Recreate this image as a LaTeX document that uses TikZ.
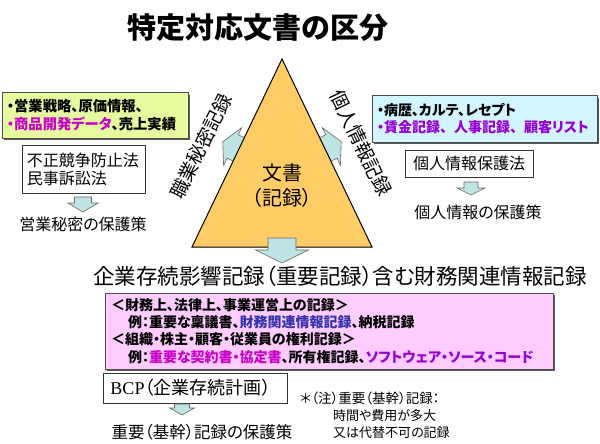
\documentclass[tikz,border=0pt]{standalone}
\usepackage{fontspec}
\setmainfont{Liberation Serif}
\newfontfamily\jp{Noto Sans CJK JP}[RawFeature=+palt]
\newfontfamily\jpf{Noto Sans CJK JP}
\usetikzlibrary{shadows}
\definecolor{trifill}{RGB}{255,204,102}
\definecolor{arrfill}{RGB}{190,228,228}
\definecolor{greenbox}{RGB}{230,250,160}
\definecolor{bluebox}{RGB}{210,245,255}
\definecolor{pinkbox}{RGB}{255,204,255}
\definecolor{mag}{RGB}{200,0,200}
\definecolor{purp}{RGB}{150,0,210}
\definecolor{navyb}{RGB}{50,50,170}
\newcommand{\fs}[1]{\fontsize{#1}{#1}\selectfont}
\newcommand{\fw}[1]{{\jpf #1}}
\newcommand{\blockarrow}[7]{%
  \begin{scope}[shift={(#1,#2)},rotate=#3]
    \filldraw[arrowsty] (0,-#5/2) -- ({#4-#7},-#5/2) -- ({#4-#7},-#6/2) -- (#4,0)
      -- ({#4-#7},#6/2) -- ({#4-#7},#5/2) -- (0,#5/2) -- cycle;
  \end{scope}}
\tikzset{
  arrowsty/.style={fill=arrfill,draw=gray!80!black,line width=0.6pt},
  colbox/.style={draw=gray!60!black,line width=1pt,align=left,inner sep=0pt,
    drop shadow={shadow xshift=1.8pt,shadow yshift=-1.8pt,fill=gray!70!black,opacity=1}},
  lawbox/.style={draw=gray!40!black,line width=0.7pt,fill=white,inner sep=0pt},
}
\begin{document}
\begin{tikzpicture}[x=1pt,y=-1pt,every node/.style={inner sep=0pt,font=\jp}]
\useasboundingbox[fill=white] (0,0) rectangle (600,444);
% title
\node[font=\jp\bfseries\fs{29}] (title) at (258,28) {特定対応文書の区分};
% side arrows behind triangle
\blockarrow{243.5}{151.7}{154.4}{23}{26}{42}{11}
\blockarrow{320.5}{151.7}{25.6}{23}{26}{42}{11}
% triangle
\coordinate (apex) at (282,59);
\coordinate (bl) at (192,247);
\coordinate (br) at (372,247);
\filldraw[fill=trifill,draw=black,line width=1pt] (apex) -- (br) -- (bl) -- cycle;
\blockarrow{282}{238}{-90}{25}{28}{53}{13}
\node[font=\jp\fs{20}] (bunsho) at (282,173) {文書};
\node[font=\jp\fs{20}] (kiroku) at (282,198) {（記録）};
\node[font=\jp\fs{19},rotate=63.5] (shokugyo) at (201,146) {職業秘密記録};
\node[font=\jp\fs{19},rotate=-64] (kojin) at (361,143) {個人情報記録};
% left column
\node[colbox,fill=greenbox,minimum width=186pt,minimum height=45pt,text width=176pt,
  font=\jp\bfseries\fontsize{14.3}{18}\selectfont] (gbox) at (95,115.5)
  {・営業戦略、原価情報、\\{\color{mag}・商品開発データ}、売上実績};
\node[lawbox,minimum width=123pt,minimum height=48pt,align=left,text width=113pt,
  font=\jp\fontsize{16}{18}\selectfont] (law1) at (83.5,169) {不正競争防止法\\民事訴訟法};
\blockarrow{83}{197}{-90}{15}{17}{30}{9}
\node[font=\jp\fs{16}] (prot1) at (83,224) {営業秘密の保護策};
% right column
\node[colbox,fill=bluebox,minimum width=225pt,minimum height=46pt,text width=215pt,
  font=\jp\bfseries\fontsize{14}{17}\selectfont] (bbox) at (484.5,119)
  {・病歴、カルテ、レセプト\\{\color{purp}・賃金記録\fw{、}人事記録\fw{、}顧客リスト}};
\node[lawbox,minimum width=128pt,minimum height=27pt,font=\jp\fs{16}] (law2) at (469,163.5) {個人情報保護法};
\blockarrow{471}{182}{-90}{13}{14}{28}{7}
\node[font=\jp\fs{16}] (prot2) at (478,212) {個人情報の保護策};
% heading
\node[font=\jp\fs{21.5}] (head) at (340,276) {企業存続影響記録（重要記録）含む財務関連情報記録};
% pink box
\node[colbox,fill=pinkbox,minimum width=448pt,minimum height=76pt,text width=436pt,
  font=\jp\bfseries\fontsize{14}{17.3}\selectfont] (pbox) at (329,331)
  {＜財務上、法律上、事業運営上の記録＞\\
   \hspace*{17pt}例：重要な稟議書、{\color{navyb}財務関連情報記録}、納税記録\\
   ＜組織・株主・顧客・従業員の権利記録＞\\
   \hspace*{17pt}例：{\color{mag}重要な契約書・協定書}、所有権記録、{\color{purp}ソフトウェア・ソース・コード}};
% BCP
\node[lawbox,minimum width=184pt,minimum height=30pt,font=\jpf\fs{18}] (bcp) at (195,388)
  {{\rmfamily BCP}{\jp （}企業存続計画）};
\blockarrow{182}{404}{-90}{11}{15}{25}{7}
\node[font=\jp\fs{16.5}] (prot3) at (202,432) {重要（基幹）記録の保護策};
% note
\node[anchor=west,font=\jp\fs{13.5}] (note1) at (300,398) {＊（注）重要（基幹）記録：};
\node[anchor=west,font=\jp\fs{13}] (note2) at (333,416) {時間や費用が多大};
\node[anchor=west,font=\jp\fs{13}] (note3) at (333,433) {又は代替不可の記録};
\end{tikzpicture}
\end{document}
